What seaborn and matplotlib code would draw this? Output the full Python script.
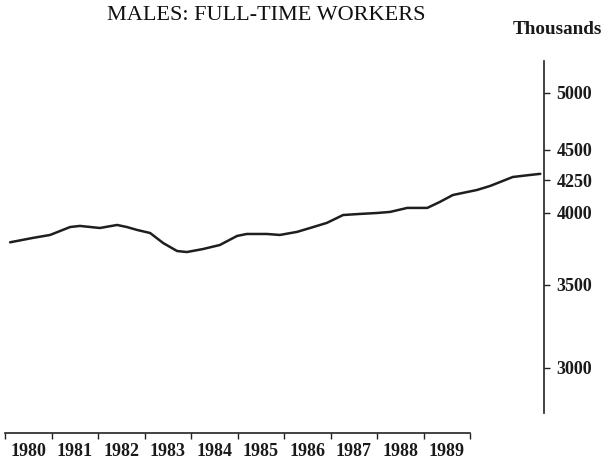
"""
Males: full-time workers, 1980-1989 (thousands, log scale).
"""

import numpy as np
import pandas as pd
import matplotlib
matplotlib.use("Agg")
import matplotlib.pyplot as plt
import matplotlib.ticker as mticker
import seaborn as sns

# --- Data ---
years = [1980, 1981, 1982, 1983, 1984, 1985, 1986, 1987, 1988, 1989]
time = [1980.11, 1980.60, 1980.97, 1981.40, 1981.61, 1982.04, 1982.41, 1982.62,
        1982.84, 1983.12, 1983.40, 1983.70, 1983.91, 1984.26, 1984.62, 1984.99,
        1985.20, 1985.63, 1985.91, 1986.28, 1986.56, 1986.92, 1987.27, 1987.63,
        1988.00, 1988.28, 1988.65, 1989.08, 1989.35, 1989.63, 1990.15, 1990.43,
        1990.92, 1991.29, 1991.51]
workers = [3788, 3819, 3840, 3897, 3905, 3890, 3912, 3897,
           3876, 3854, 3783, 3727, 3720, 3741, 3769, 3833,
           3847, 3847, 3840, 3862, 3890, 3927, 3985, 3993,
           4000, 4008, 4038, 4038, 4083, 4136, 4175, 4206,
           4277, 4293, 4302]
ytick_values = [3000, 3500, 4000, 4250, 4500, 5000]

df = pd.DataFrame({"time": time, "workers": workers})

# --- Style ---
sns.set_theme(style="white")
plt.rcParams.update({"font.family": ["Liberation Serif", "DejaVu Serif"],
                     "font.weight": "bold",
                     "savefig.dpi": 100, "figure.dpi": 100})

fig = plt.figure(figsize=(6.04, 4.62))
ax = fig.add_axes([5 / 604, 49 / 462, 539 / 604, 352 / 462])

sns.lineplot(data=df, x="time", y="workers", ax=ax, color="#1e1e1e",
             linewidth=1.8, estimator=None)

ax.set_yscale("log")
ax.set_ylim(2758, 5306)
ax.set_xlim(1980, 1991.59)

# y axis on the right
ax.yaxis.tick_right()
ax.yaxis.set_major_locator(mticker.FixedLocator(ytick_values))
ax.yaxis.set_minor_locator(mticker.NullLocator())
ax.yaxis.set_major_formatter(mticker.FuncFormatter(lambda v, _: f"{v:.0f}"))
ax.tick_params(axis="y", which="major", direction="out", length=4, width=1,
               color="#222222", pad=5, labelsize=13, labelcolor="#1a1a1a",
               right=True, left=False)

# x axis: year boundaries as ticks, labels centred between them
ax.xaxis.set_major_locator(mticker.FixedLocator(years + [1990]))
ax.xaxis.set_major_formatter(mticker.NullFormatter())
ax.xaxis.set_minor_locator(mticker.FixedLocator([y + 0.5 for y in years]))
ax.xaxis.set_minor_formatter(mticker.FixedFormatter([str(y) for y in years]))
ax.tick_params(axis="x", which="major", direction="out", length=4, width=1,
               color="#222222", bottom=True)
ax.tick_params(axis="x", which="minor", length=0, pad=7, labelsize=13,
               labelcolor="#1a1a1a", bottom=True)

for side in ["top", "left"]:
    ax.spines[side].set_visible(False)
ax.spines["right"].set_color("#222222")
ax.spines["right"].set_linewidth(1.2)
ax.spines["bottom"].set_color("#222222")
ax.spines["bottom"].set_linewidth(1.2)
ax.spines["bottom"].set_position(("outward", 14.4))
ax.spines["bottom"].set_bounds(1980, 1990)

ax.set_xlabel("")
ax.set_ylabel("")

fig.text(266 / 604, 1 - 15 / 462, "MALES: FULL-TIME WORKERS", ha="center",
         va="center", fontsize=16, fontweight="normal", color="#111111")
fig.text(602 / 604, 1 - 30 / 462, "Thousands", ha="right", va="center",
         fontsize=13.8, fontweight="bold", color="#1a1a1a")

fig.savefig("out.png", dpi=100)
plt.close(fig)
